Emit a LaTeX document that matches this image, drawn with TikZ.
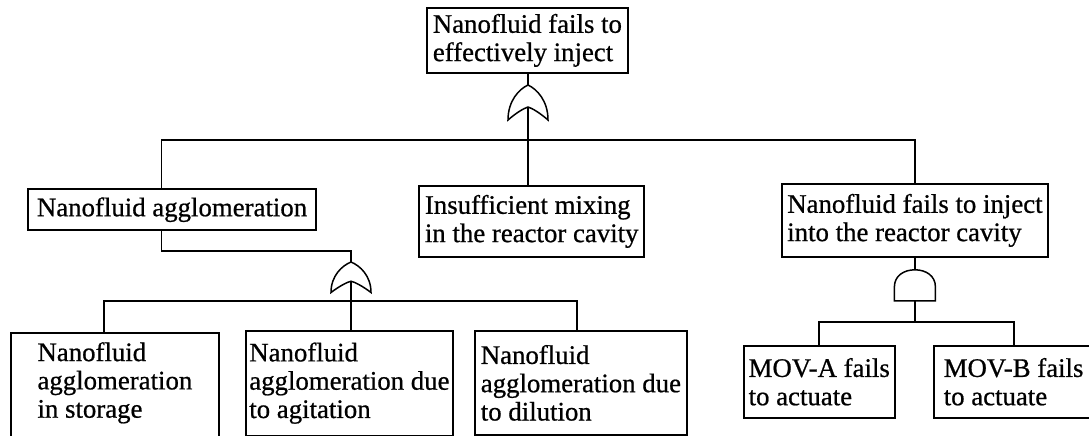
\documentclass[tikz,border=0pt]{standalone}
\usepackage{fontspec}
\setmainfont{Liberation Serif}
\newfontfamily\ftfont{Liberation Serif}[FakeBold=0.7]
\begin{document}
\begin{tikzpicture}[x=1pt,y=-1pt,line width=1.8pt,
  ftbox/.style={draw, rectangle, anchor=north west, align=left, inner sep=1pt,
    font=\ftfont\fontsize{26.8}{28.3}\selectfont},
  gateline/.style={draw, fill=white, line width=1.5pt},
  pics/orgate/.style={code={
    \path[gateline] (-20,#1) .. controls (-20,0.45*#1) and (-9,0.12*#1) .. (0,0)
      .. controls (9,0.12*#1) and (20,0.45*#1) .. (20,#1)
      .. controls (12,0.8*#1) and (4,0.66*#1) .. (0,0.63*#1)
      .. controls (-4,0.66*#1) and (-12,0.8*#1) .. (-20,#1) -- cycle;
    \coordinate (-top) at (0,0);
    \coordinate (-in) at (0,0.63*#1);
  }},
  pics/andgate/.style={code={
    \path[gateline] (-20.5,31) -- (-20.5,17) .. controls (-20.5,6) and (-11,0) .. (0,0)
      .. controls (11,0) and (20.5,6) .. (20.5,17) -- (20.5,31) -- cycle;
    \coordinate (-top) at (0,0);
    \coordinate (-in) at (0,31);
  }}]
\useasboundingbox (0,0) rectangle (1089,436);

% event boxes
\node[ftbox, minimum width=201pt, minimum height=65pt] (T) at (426,7) {Nanofluid fails to\\effectively inject};
\node[ftbox, minimum width=287.7pt, minimum height=41pt] (A) at (27.3,188.3) {Nanofluid agglomeration};
\node[ftbox, minimum width=225pt, minimum height=71pt] (I) at (418.3,185) {Insufficient mixing\\in the reactor cavity};
\node[ftbox, minimum width=266pt, minimum height=73pt] (R) at (781,183) {Nanofluid fails to inject\\into the reactor cavity};
\node[ftbox, minimum width=208pt, minimum height=113pt, text depth=18.3pt] (B1) at (10,331.7) {Nanofluid\\agglomeration\\in storage};
\node[ftbox, minimum width=207pt, minimum height=104.5pt] (B2) at (245,330) {Nanofluid\\agglomeration due\\to agitation};
\node[ftbox, minimum width=212pt, minimum height=104pt] (B3) at (474,330) {Nanofluid\\agglomeration due\\to dilution};
\node[ftbox, minimum width=151.3pt, minimum height=71.7pt] (MA) at (742.7,345) {MOV-A fails\\to actuate};
\node[ftbox, minimum width=160pt, minimum height=71.7pt] (MB) at (932.7,345) {MOV-B fails\\to actuate};

% gates
\pic (g1) at (528,85) {orgate=35};
\pic (g2) at (351,262) {orgate=30.5};
\path (R.south) ++(0,12) coordinate (g3pos);
\pic (g3) at (g3pos) {andgate};

% connectors: top gate
\coordinate (bus1L) at (161.5,140);
\draw (g1-top |- T.south) -- (g1-top);
\draw (g1-in) -- (g1-in |- I.north);
\draw (A.north -| bus1L) -- (bus1L) -- (bus1L -| R.north) -- (R.north);

% connectors: agglomeration gate
\coordinate (a1) at (161.5,251);
\draw (A.south -| a1) -- (a1) -- (a1 -| g2-top) -- (g2-top);
\coordinate (b2L) at (104,301);
\coordinate (b2R) at (577,301);
\draw (B1.north -| b2L) -- (b2L) -- (b2R) -- (B3.north -| b2R);
\draw (g2-in) -- (g2-in |- B2.north);

% connectors: injection AND gate
\coordinate (b3) at (0,321.7);
\draw (R.south) -- (g3-top);
\draw (g3-in) -- (g3-in |- b3);
\draw (MA.north) -- (MA.north |- b3) -- (MB.north |- b3) -- (MB.north);
\end{tikzpicture}
\end{document}
